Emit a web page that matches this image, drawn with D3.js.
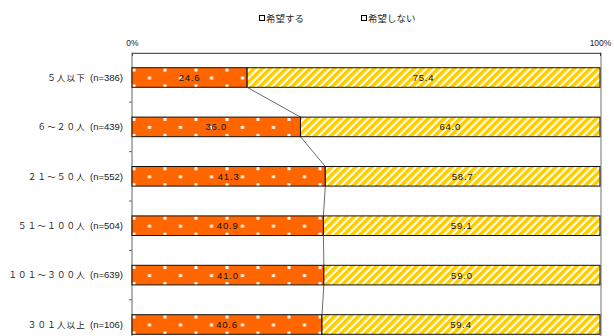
<!DOCTYPE html>
<html>
<head>
<meta charset="utf-8">
<script src="https://cdn.jsdelivr.net/npm/d3@7"></script>
<style>
  html, body { margin: 0; padding: 0; background: #fff; }
  svg { display: block; }
</style>
</head>
<body>
<script>
// Company-size groups, sample sizes and the share (%) answering each way
const categories = ["５人以下", "６～２０人", "２１～５０人", "５１～１００人", "１０１～３００人", "３０１人以上"];
const sampleSizes = [386, 439, 552, 504, 639, 106];
const wantValues = [24.6, 36.0, 41.3, 40.9, 41.0, 40.6];
const notWantValues = [75.4, 64.0, 58.7, 59.1, 59.0, 59.4];
const seriesNames = ["希望する", "希望しない"];
const axisTicks = [0, 100];

const W = 614, H = 336;
const plotLeft = 132, plotRight = 600, plotTop = 52.8;
const step = 49.4, barH = 19.6;

const svg = d3.select("body").append("svg")
  .attr("width", W).attr("height", H);

const defs = svg.append("defs");

const x = d3.scaleLinear().domain([0, 100]).range([plotLeft, plotRight]);
const pi = 1 - barH / step;
const y = d3.scaleBand().domain(categories)
  .range([plotTop, plotTop + step * categories.length])
  .paddingInner(pi).paddingOuter(pi / 2);

const rows = categories.map((c, i) => ({
  id: i, cat: c, n: sampleSizes[i], a: wantValues[i], b: notWantValues[i]
}));

// Orange fill with a sparse grid of small white squares, anchored to each bar's top
rows.forEach(d => {
  const p = defs.append("pattern")
    .attr("id", "dots" + d.id).attr("patternUnits", "userSpaceOnUse")
    .attr("x", plotLeft + 0.5).attr("y", y(d.cat) + 0.8)
    .attr("width", 31).attr("height", 16);
  p.append("rect").attr("width", 31).attr("height", 16).attr("fill", "#ff6600");
  p.append("rect").attr("x", 0).attr("y", 0).attr("width", 3).attr("height", 3).attr("fill", "#fff");
  p.append("rect").attr("x", 15.5).attr("y", 8).attr("width", 3).attr("height", 3).attr("fill", "#fff");
});

// Yellow / white diagonal stripes
const stripes = defs.append("pattern")
  .attr("id", "stripes").attr("patternUnits", "userSpaceOnUse")
  .attr("width", 5.66).attr("height", 5.66)
  .attr("patternTransform", "rotate(45)");
stripes.append("rect").attr("width", 5.66).attr("height", 5.66).attr("fill", "#fff");
stripes.append("rect").attr("width", 3.5).attr("height", 5.66).attr("fill", "#ffcc00");

// Legend
const legend = svg.append("g").attr("font-family", "'Noto Sans CJK JP', sans-serif")
  .attr("font-size", 9.5).attr("fill", "#222");
const legendX = [259, 361];
seriesNames.forEach((name, i) => {
  const g = legend.append("g").attr("transform", `translate(${legendX[i]},0)`);
  g.append("rect").attr("x", 0.5).attr("y", 15.5).attr("width", 5).attr("height", 5)
    .attr("fill", "#fff").attr("stroke", "#000").attr("stroke-width", 1);
  g.append("text").attr("x", 7).attr("y", 21.5).text(name);
});

// Right border of the plot
svg.append("line")
  .attr("x1", plotRight + 1).attr("x2", plotRight + 1)
  .attr("y1", plotTop).attr("y2", H)
  .attr("stroke", "#a0a0a0").attr("stroke-width", 1.5);

// Percent axis along the top
const xAxis = d3.axisTop(x).tickValues(axisTicks).tickSize(-3).tickPadding(6.5)
  .tickFormat(d => d + "%");
const gx = svg.append("g").attr("transform", `translate(0,${plotTop})`).call(xAxis);
gx.select(".domain").attr("stroke", "#333");
gx.selectAll(".tick line").attr("stroke", "#333");
gx.selectAll("text").attr("font-family", "'Liberation Sans Narrow', 'Liberation Sans', sans-serif")
  .attr("font-size", 8.5).attr("fill", "#222");

// Category axis on the left
svg.append("line")
  .attr("x1", plotLeft).attr("x2", plotLeft).attr("y1", plotTop).attr("y2", H)
  .attr("stroke", "#666").attr("stroke-width", 1);
svg.append("g").selectAll("line")
  .data(d3.range(1, categories.length))
  .join("line")
  .attr("x1", plotLeft - 3).attr("x2", plotLeft)
  .attr("y1", k => plotTop + k * step).attr("y2", k => plotTop + k * step)
  .attr("stroke", "#666");

// Bars
const bars = svg.append("g");
bars.selectAll("rect.a").data(rows).join("rect")
  .attr("class", "a")
  .attr("x", x(0)).attr("y", d => y(d.cat))
  .attr("width", d => x(d.a) - x(0)).attr("height", y.bandwidth())
  .attr("fill", d => `url(#dots${d.id})`).attr("stroke", "#111").attr("stroke-width", 1);
bars.selectAll("rect.b").data(rows).join("rect")
  .attr("class", "b")
  .attr("x", d => x(d.a)).attr("y", d => y(d.cat))
  .attr("width", d => x(d.a + d.b) - x(d.a)).attr("height", y.bandwidth())
  .attr("fill", "url(#stripes)").attr("stroke", "#111").attr("stroke-width", 1);

// Series lines joining the boundaries of consecutive bars
svg.append("g").selectAll("line")
  .data(rows.slice(0, -1))
  .join("line")
  .attr("x1", d => x(d.a)).attr("y1", d => y(d.cat) + y.bandwidth())
  .attr("x2", (d, i) => x(rows[i + 1].a)).attr("y2", (d, i) => y(rows[i + 1].cat))
  .attr("stroke", "#444").attr("stroke-width", 0.8);

// Value labels
const fmt = d3.format(".1f");
const labels = svg.append("g").attr("font-family", "'Liberation Sans Narrow', 'Liberation Sans', sans-serif")
  .attr("font-size", 9.5).attr("fill", "#111").attr("text-anchor", "middle");
rows.forEach(d => {
  const cy = y(d.cat) + y.bandwidth() / 2 + 3.4;
  labels.append("text").attr("x", (x(0) + x(d.a)) / 2).attr("y", cy)
    .attr("letter-spacing", 0.8).text(fmt(d.a));
  labels.append("text").attr("x", (x(d.a) + x(d.a + d.b)) / 2).attr("y", cy)
    .attr("letter-spacing", 0.8).text(fmt(d.b));
});

// Category labels
const cats = svg.append("g").attr("fill", "#222").attr("text-anchor", "end");
rows.forEach(d => {
  const t = cats.append("text")
    .attr("x", 123).attr("y", y(d.cat) + y.bandwidth() / 2 + 3.3);
  t.append("tspan").attr("font-family", "'Noto Sans CJK JP', sans-serif")
    .attr("font-size", 8.5).attr("letter-spacing", 1.2).text(d.cat);
  t.append("tspan").attr("font-family", "'Liberation Sans Narrow', 'Liberation Sans', sans-serif")
    .attr("font-size", 9.5).attr("dx", 4).text(`(n=${d.n})`);
});
</script>
</body>
</html>
